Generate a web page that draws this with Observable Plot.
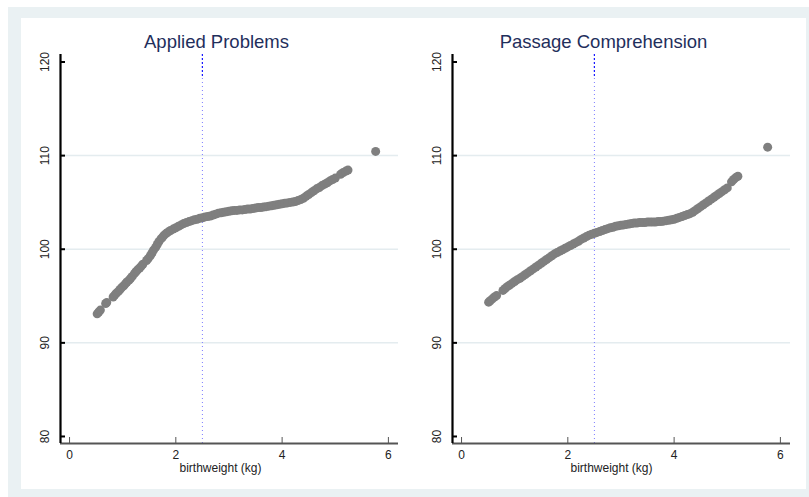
<!DOCTYPE html>
<html>
<head>
<meta charset="utf-8">
<script src="https://cdn.jsdelivr.net/npm/d3@7"></script>
<script src="https://cdn.jsdelivr.net/npm/@observablehq/plot@0.6"></script>
<style>
  html, body { margin: 0; padding: 0; background: #ffffff; }
  #wrap { position: relative; width: 809px; height: 497px; overflow: hidden; font-family: "Liberation Sans", Arial, sans-serif; }
  #outer { position: absolute; left: 8px; top: 7px; width: 801px; height: 490px; background: #eaf1f3; }
  #inner { position: absolute; left: 21px; top: 18px; width: 785px; height: 471px; background: #ffffff; }
  .panel { position: absolute; top: 0; }
</style>
</head>
<body>
<div id="wrap">
  <div id="outer"></div>
  <div id="inner"></div>
  <div id="left" class="panel" style="left:0px"></div>
  <div id="right" class="panel" style="left:392px"></div>
</div>
<script>
// ---- Data ----
const panelTitles = ["Applied Problems", "Passage Comprehension"];
const xLabel = "birthweight (kg)";
const xTicks = [0, 2, 4, 6];
const yTicks = [80, 90, 100, 110, 120];
const gridTicks = [90, 100, 110];
const refLineX = 2.5;

const bw_applied = [0.52,0.55,0.58,0.68,0.70,0.82,0.85,0.88,0.92,0.95,0.98,1.02,1.05,1.08,1.12,1.15,1.18,1.22,1.25,1.28,1.32,1.35,1.38,
  1.45,1.48,1.52,1.55,1.58,1.62,1.65,1.68,1.72,1.75,1.78,1.82,1.86,1.90,1.95,2.00,2.05,2.10,2.15,2.20,2.25,2.30,2.35,2.40,2.45,
  2.50,2.55,2.60,2.65,2.70,2.75,2.80,2.85,2.90,2.95,3.00,3.05,3.10,3.15,3.20,3.25,3.30,3.35,3.40,3.45,3.50,3.55,3.60,3.65,3.70,
  3.75,3.80,3.85,3.90,3.95,4.00,4.05,4.10,4.15,4.20,4.25,4.30,4.35,4.40,4.45,4.50,4.55,4.60,4.65,4.70,4.75,4.80,4.85,4.90,4.95,
  5.00,5.10,5.15,5.20,5.24,5.76];
const score_applied = [93.1,93.3,93.5,94.2,94.3,94.9,95.1,95.3,95.5,95.7,95.9,96.1,96.3,96.5,96.7,96.9,97.1,97.4,97.6,97.8,98.0,98.2,98.4,
  98.8,99.0,99.3,99.6,99.9,100.2,100.5,100.8,101.1,101.3,101.5,101.7,101.85,102.0,102.15,102.3,102.45,102.6,102.75,102.85,102.95,103.05,103.15,103.2,103.3,
  103.35,103.45,103.5,103.55,103.65,103.75,103.85,103.9,103.95,104.0,104.05,104.1,104.15,104.15,104.2,104.2,104.25,104.3,104.3,104.35,104.4,104.45,104.45,104.5,104.55,
  104.6,104.65,104.7,104.75,104.8,104.85,104.9,104.95,105.0,105.05,105.1,105.2,105.3,105.45,105.65,105.85,106.05,106.25,106.45,106.6,106.8,106.95,107.1,107.3,107.45,
  107.6,108.0,108.2,108.35,108.45,110.45];

const bw_passage = [0.51,0.54,0.58,0.62,0.66,0.78,0.82,0.86,0.90,0.95,1.00,1.05,1.10,1.15,1.20,1.25,1.30,1.35,1.40,1.45,1.50,1.55,1.60,
  1.65,1.70,1.75,1.80,1.85,1.90,1.95,2.00,2.05,2.10,2.15,2.20,2.25,2.30,2.35,2.40,2.45,2.50,2.55,2.60,2.65,2.70,2.75,2.80,2.85,
  2.90,2.95,3.00,3.05,3.10,3.15,3.20,3.25,3.30,3.35,3.40,3.45,3.50,3.55,3.60,3.65,3.70,3.75,3.80,3.85,3.90,3.95,4.00,4.05,4.10,
  4.15,4.20,4.25,4.30,4.35,4.40,4.45,4.50,4.55,4.60,4.65,4.70,4.75,4.80,4.85,4.90,4.95,5.00,5.08,5.12,5.16,5.20,5.76];
const score_passage = [94.35,94.5,94.7,94.9,95.05,95.6,95.8,96.0,96.15,96.35,96.55,96.75,96.9,97.1,97.3,97.5,97.7,97.9,98.1,98.3,98.5,98.7,98.9,
  99.1,99.3,99.5,99.65,99.8,99.95,100.1,100.25,100.4,100.55,100.7,100.85,101.05,101.2,101.35,101.5,101.6,101.7,101.8,101.9,102.0,102.1,102.2,102.3,102.35,
  102.45,102.5,102.55,102.6,102.65,102.7,102.75,102.8,102.8,102.85,102.85,102.85,102.9,102.9,102.9,102.9,102.95,102.95,103.0,103.05,103.1,103.15,103.2,103.3,103.4,
  103.5,103.6,103.7,103.8,103.95,104.15,104.35,104.55,104.75,104.95,105.15,105.35,105.55,105.75,105.95,106.15,106.35,106.55,107.2,107.45,107.65,107.8,110.9];

// ---- Drawing ----
const xDomain = [-0.17, 6.19];
const yDomain = [79.25, 120.8];
const FONT = "Liberation Sans, Arial, Helvetica, sans-serif";

function panel(bw, score, title, width, marginRight, titleDx, labelDx) {
  const data = bw.map((x, i) => ({x, y: score[i]}));
  const height = 497, mt = 54, mb = 54, ml = 60;
  const fw = width - ml - marginRight, fh = height - mt - mb;
  return Plot.plot({
    width, height,
    marginLeft: ml, marginRight, marginTop: mt, marginBottom: mb,
    style: {background: "transparent", fontFamily: FONT, overflow: "visible"},
    x: {domain: xDomain, axis: null},
    y: {domain: yDomain, axis: null},
    marks: [
      Plot.ruleY(gridTicks, {stroke: "#e4ecef", strokeWidth: 1.5}),
      Plot.ruleX([refLineX], {stroke: "#7b7bff", strokeWidth: 1, strokeDasharray: "1,3"}),
      Plot.ruleX([refLineX], {stroke: "#1a1aff", strokeWidth: 1.2, strokeDasharray: "2,2", insetBottom: fh - 24}),
      Plot.dot(data, {x: "x", y: "y", r: 4.5, fill: "#7f7f7f", stroke: "none"}),
      // axes
      Plot.ruleY([yDomain[0]], {stroke: "#555555", strokeWidth: 2}),
      Plot.ruleX(xTicks, {stroke: "#555555", strokeWidth: 1, insetTop: fh - 6}),
      Plot.ruleX([xDomain[0]], {stroke: "#000000", strokeWidth: 2.2}),
      Plot.ruleY(yTicks, {stroke: "#000000", strokeWidth: 2, insetRight: fw - 5}),
      Plot.text(yTicks, {x: xDomain[0], y: d => d, text: d => String(d), dx: -15, rotate: -90, fontSize: 12, fill: "#222222"}),
      Plot.text(xTicks, {x: d => d, y: yDomain[0], text: d => String(d), dy: 12, fontSize: 12, fill: "#222222"}),
      Plot.text([xLabel], {text: d => d, frameAnchor: "bottom", lineAnchor: "middle", dy: 24.5, dx: labelDx, fontSize: 12, fill: "#222222"}),
      Plot.text([title], {text: d => d, frameAnchor: "top", lineAnchor: "middle", dy: -12, dx: titleDx, fontSize: 18.5, fill: "#1f2f5c"})
    ]
  });
}

document.getElementById("left").appendChild(panel(bw_applied, score_applied, panelTitles[0], 405, 7, -13, -9));
document.getElementById("right").appendChild(panel(bw_passage, score_passage, panelTitles[1], 417, 19, -18, -10));
</script>
</body>
</html>
